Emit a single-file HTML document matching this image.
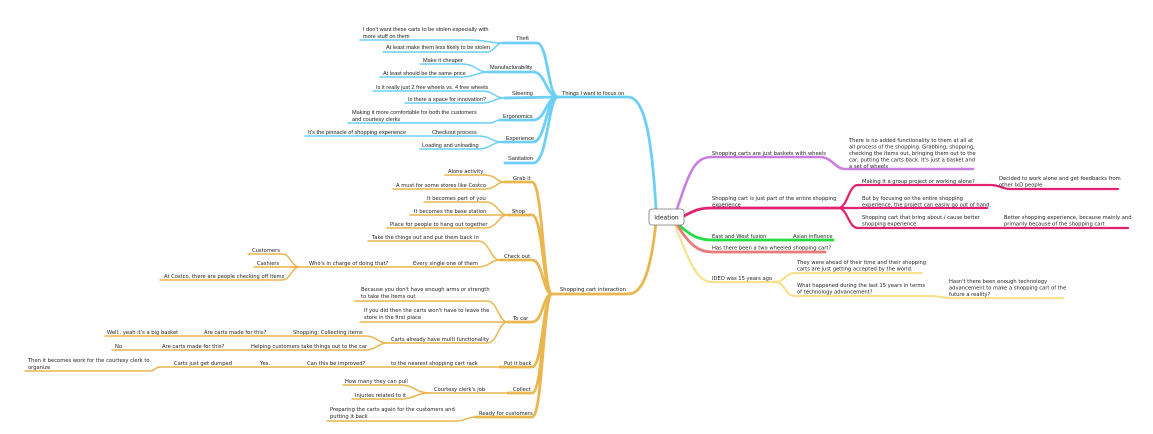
<!DOCTYPE html>
<html><head><meta charset="utf-8"><style>
html,body{margin:0;padding:0;background:#fff;}
svg{display:block;}
text{font-size:5.6px;fill:#222;}
.b text{font-family:"Liberation Sans",sans-serif;}
.o text,.r text{font-family:"DejaVu Sans",sans-serif;font-size:5.2px;}
path{fill:none;stroke-linecap:round;}
</style></head><body>
<svg width="1153" height="434" viewBox="0 0 1153 434" xmlns="http://www.w3.org/2000/svg">
<!-- BLUE -->
<g class="b">
<g stroke="#6dcff6" stroke-width="2.8">
<path d="M656 209 C652 140 645 97 628 97 L558 97"/>
<path d="M503 43 L537 43 C548 43 548 97 558 97"/>
<path d="M488 72 L533 72 C546 72 546 97 558 97"/>
<path d="M505 98 L558 97"/>
<path d="M500 120 L533 120 C546 120 546 97 558 97"/>
<path d="M503 142 L533 142 C546 142 546 97 558 97"/>
<path d="M505 163 L533 163 C548 163 548 97 558 97"/>
</g>
<g stroke="#6dcff6" stroke-width="1.5">
<path d="M360 40 L470 40 C487 40 487 43 503 43"/>
<path d="M383 52 L487 52 C495 52 495 43 503 43"/>
<path d="M420 64 L462 64 C476 64 476 72 488 72"/>
<path d="M380 77 L462 77 C476 77 476 72 488 72"/>
<path d="M373 91 L482 91 C494 91 494 98 505 98"/>
<path d="M405 103 L482 103 C494 103 494 98 505 98"/>
<path d="M348 123 L490 123 C495 123 495 120 500 120"/>
<path d="M305 136 L478 136 C491 136 491 142 503 142"/>
<path d="M420 149 L478 149 C491 149 491 142 503 142"/>
</g>
<text x="562" y="95">Things I want to focus on</text>
<text x="516" y="40">Theft</text>
<text x="363" y="31">I don't want these carts to be stolen especially with</text>
<text x="363" y="38">more stuff on them</text>
<text x="386" y="49">At least make them less likely to be stolen</text>
<text x="490" y="69">Manufacturability</text>
<text x="423" y="62">Make it cheaper</text>
<text x="383" y="75">At least should be the same price</text>
<text x="512" y="95">Steering</text>
<text x="376" y="89">Is it really just 2 free wheels vs. 4 free wheels</text>
<text x="408" y="101">Is there a space for innovation?</text>
<text x="503" y="118">Ergonomics</text>
<text x="352" y="114">Making it more comfortable for both the customers</text>
<text x="352" y="121">and courtesy clerks</text>
<text x="506" y="140">Experience</text>
<text x="432" y="134">Checkout process</text>
<text x="308" y="134">It's the pinnacle of shopping experience</text>
<text x="422" y="147">Loading and unloading</text>
<text x="508" y="160">Sanitation</text>
</g>
<!-- ORANGE -->
<g class="o">
<g stroke="#e9b64f" stroke-width="2.8">
<path d="M656 222 C650 280 640 294 628 294 L552 294"/>
<path d="M505 182 L532 182 C543 182 543 294 552 294"/>
<path d="M508 215 L532 215 C543 215 543 294 552 294"/>
<path d="M500 260 L532 260 C543 260 543 294 552 294"/>
<path d="M508 322 L532 322 C543 322 543 294 552 294"/>
<path d="M500 367 L532 367 C543 367 543 294 552 294"/>
<path d="M508 393 L532 393 C543 393 543 294 552 294"/>
<path d="M476 417 L532 417 C543 417 543 294 552 294"/>
</g>
<g stroke="#e9b64f" stroke-width="1.5">
<path d="M445 175 L485 175 C496 175 496 182 505 182"/>
<path d="M393 189 L485 189 C496 189 496 182 505 182"/>
<path d="M424 202 L485 202 C498 202 498 215 508 215"/>
<path d="M410 215 L508 215"/>
<path d="M387 228 L485 228 C498 228 498 215 508 215"/>
<path d="M368 241 L478 241 C490 241 490 260 500 260"/>
<path d="M290 267 L478 267 C490 267 490 260 500 260"/>
<path d="M248 254 L282 254 C291 254 291 267 300 267"/>
<path d="M254 267 L300 267"/>
<path d="M160 280 L282 280 C291 280 291 267 300 267"/>
<path d="M355 301 L487 301 C498 301 498 322 508 322"/>
<path d="M360 322 L508 322"/>
<path d="M388 343 L487 343 C498 343 498 322 508 322"/>
<path d="M105 336 L365 336 C377 336 377 343 388 343"/>
<path d="M112 350 L365 350 C377 350 377 343 388 343"/>
<path d="M160 367 L500 367"/>
<path d="M25 371 L150 371 C155 371 155 367 160 367"/>
<path d="M430 393 L508 393"/>
<path d="M343 385 L400 385 C415 385 415 393 430 393"/>
<path d="M352 399 L400 399 C415 399 415 393 430 393"/>
<path d="M327 421 L455 421 C466 421 466 417 476 417"/>
</g>
<text x="560" y="291">Shopping cart interaction</text>
<text x="513" y="180">Grab it</text>
<text x="448" y="173">Alone activity</text>
<text x="396" y="187">A must for some stores like Costco</text>
<text x="512" y="213">Shop</text>
<text x="427" y="200">It becomes part of you</text>
<text x="414" y="213">It becomes the base station</text>
<text x="390" y="226">Place for people to hang out together</text>
<text x="504" y="258">Check out</text>
<text x="372" y="239">Take the things out and put them back in</text>
<text x="413" y="265">Every single one of them</text>
<text x="309" y="265">Who's in charge of doing that?</text>
<text x="252" y="252">Customers</text>
<text x="257" y="265">Cashiers</text>
<text x="164" y="278">At Costco, there are people checking off items</text>
<text x="513" y="320">To car</text>
<text x="361" y="291">Because you don't have enough arms or strength</text>
<text x="361" y="298">to take the items out</text>
<text x="364" y="312">If you did then the carts won't have to leave the</text>
<text x="364" y="319">store in the first place</text>
<text x="391" y="341">Carts already have multi functionality</text>
<text x="293" y="334">Shopping: Collecting items</text>
<text x="251" y="348">Helping customers take things out to the car</text>
<text x="204" y="334">Are carts made for this?</text>
<text x="107" y="334">Well.. yeah it's a big basket</text>
<text x="162" y="348">Are carts made for this?</text>
<text x="115" y="348">No</text>
<text x="504" y="365">Put it back</text>
<text x="391" y="365">to the nearest shopping cart rack</text>
<text x="307" y="365">Can this be improved?</text>
<text x="260" y="365">Yes.</text>
<text x="174" y="365">Carts just get dumped</text>
<text x="28" y="362">Then it becomes work for the courtesy clerk to</text>
<text x="28" y="369">organize</text>
<text x="513" y="391">Collect</text>
<text x="434" y="391">Courtesy clerk's job</text>
<text x="345" y="383">How many they can pull</text>
<text x="355" y="397">Injuries related to it</text>
<text x="479" y="415">Ready for customers</text>
<text x="330" y="411">Preparing the carts again for the customers and</text>
<text x="330" y="418">putting it back</text>
</g>
<!-- RIGHT -->
<g class="r">
<path stroke="#c97fe0" stroke-width="2.6" d="M677 209 C690 170 695 157 712 157 L820 157 C832 157 835 169 845 169 L973 169"/>
<g stroke="#e0226f">
<path stroke-width="2.8" d="M684 216 C695 210 700 208 712 208 L838 208"/>
<path stroke-width="2.2" d="M838 208 C848 208 848 185 858 185 L990 185 C1000 185 1002 189 1010 189 L1118 189"/>
<path stroke-width="2.2" d="M838 208 L987 208"/>
<path stroke-width="2.2" d="M838 208 C848 208 848 228 858 228 L1128 228"/>
</g>
<path stroke="#22dd44" stroke-width="2.8" d="M679 225 C690 235 698 240 712 240 L833 240"/>
<path stroke="#e87a7a" stroke-width="2.8" d="M677 225 C690 245 698 252 712 252 L825 252"/>
<g stroke="#f6e28e" stroke-width="2.2">
<path d="M675 225 C690 265 698 282 712 282 L775 282"/>
<path d="M775 282 C785 282 785 273 795 273 L922 273"/>
<path d="M775 282 C785 282 785 296 795 296 L930 296 C940 296 942 298 950 298 L1063 298"/>
</g>
<text x="712" y="155">Shopping carts are just baskets with wheels</text>
<text x="849" y="142">There is no added functionality to them at all at</text>
<text x="849" y="148.5">all process of the shopping. Grabbing, shopping,</text>
<text x="849" y="155">checking the items out, bringing them out to the</text>
<text x="849" y="161.5">car, putting the carts back. It's just a basket and</text>
<text x="849" y="168">a set of wheels</text>
<text x="712" y="200">Shopping cart is just part of the entire shopping</text>
<text x="712" y="206.5">experience</text>
<text x="862" y="183">Making it a group project or working alone?</text>
<text x="999" y="180">Decided to work alone and get feedbacks from</text>
<text x="999" y="186.5">other IxD people</text>
<text x="862" y="200">But by focusing on the entire shopping</text>
<text x="862" y="206.5">experience, the project can easily go out of hand.</text>
<text x="862" y="219">Shopping cart that bring about / cause better</text>
<text x="862" y="225.5">shopping experience</text>
<text x="1004" y="219">Better shopping experience, because mainly and</text>
<text x="1004" y="225.5">primarily because of the shopping cart</text>
<text x="712" y="238">East and West fusion</text>
<text x="793" y="238">Asian influence</text>
<text x="712" y="249.5">Has there been a two wheeled shopping cart?</text>
<text x="712" y="280">IDEO was 15 years ago</text>
<text x="797" y="264">They were ahead of their time and their shopping</text>
<text x="797" y="270.5">carts are just getting accepted by the world.</text>
<text x="797" y="287">What happened during the last 15 years in terms</text>
<text x="797" y="293.5">of technology advancement?</text>
<text x="949" y="283">Hasn't there been enough technology</text>
<text x="949" y="289.5">advancement to make a shopping cart of the</text>
<text x="949" y="296">future a reality?</text>
</g>
<rect x="649" y="209" width="35" height="16" rx="3" fill="#fff" stroke="#777" stroke-width="0.8"/>
<text x="666.5" y="219.5" text-anchor="middle" style="font-family:'DejaVu Sans',sans-serif;font-size:6px">Ideation</text>
</svg>
</body></html>
